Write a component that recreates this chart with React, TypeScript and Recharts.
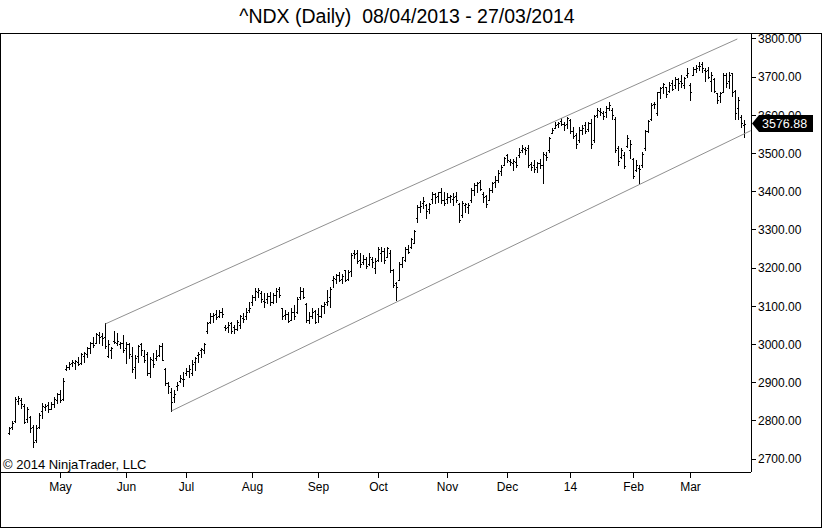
import { ComposedChart, Bar, XAxis, YAxis, ReferenceLine } from 'recharts';

// open, high, low, close
type Ohlc = [number, number, number, number];

const apr13: Ohlc[] = [
  [2768, 2785, 2765, 2782], [2785, 2800, 2778, 2795], [2800, 2862, 2798, 2858], [2852, 2865, 2845, 2860],
  [2855, 2860, 2833, 2845], [2840, 2843, 2794, 2797], [2805, 2837, 2796, 2832], [2810, 2813, 2772, 2780],
  [2785, 2789, 2732, 2745], [2750, 2789, 2745, 2780], [2785, 2820, 2781, 2815], [2825, 2847, 2807, 2840],
  [2835, 2844, 2828, 2838], [2842, 2850, 2824, 2830], [2832, 2850, 2830, 2845], [2845, 2863, 2837, 2858],
  [2855, 2873, 2847, 2870],
];
const may13: Ohlc[] = [
  [2870, 2881, 2850, 2855], [2858, 2912, 2855, 2905], [2935, 2946, 2932, 2940], [2940, 2955, 2937, 2950],
  [2952, 2959, 2944, 2955], [2952, 2960, 2937, 2958], [2955, 2968, 2946, 2950], [2952, 2977, 2950, 2975],
  [2970, 2981, 2955, 2978], [2975, 2994, 2968, 2992], [2990, 3007, 2977, 3004], [3003, 3020, 2994, 2998],
  [3005, 3030, 3003, 3028], [3025, 3033, 3003, 3020], [3022, 3030, 2999, 3018], [3020, 3055, 2990, 2995],
  [2970, 3012, 2968, 3000], [2985, 2994, 2964, 2992], [3010, 3036, 3003, 3006], [3005, 3030, 2999, 3010],
  [3000, 3007, 2990, 3003], [3005, 3025, 2981, 2985],
];
const jun13: Ohlc[] = [
  [2990, 3007, 2951, 3000], [3000, 3005, 2964, 2975], [2970, 2994, 2929, 2935], [2940, 2972, 2911, 2965],
  [2970, 2999, 2955, 2997], [3000, 3005, 2972, 2985], [2970, 2985, 2955, 2960], [2975, 2981, 2920, 2925],
  [2925, 2968, 2916, 2962], [2960, 2977, 2942, 2948], [2965, 2985, 2959, 2970], [2972, 2999, 2970, 2995],
  [2995, 3003, 2959, 2960], [2935, 2938, 2894, 2900], [2900, 2903, 2873, 2890], [2875, 2886, 2826, 2850],
  [2862, 2881, 2850, 2870], [2890, 2903, 2881, 2895], [2905, 2920, 2903, 2912], [2910, 2929, 2890, 2910],
];
const jul13: Ohlc[] = [
  [2925, 2938, 2920, 2930], [2930, 2946, 2916, 2935], [2925, 2959, 2920, 2950], [2955, 2968, 2933, 2965],
  [2972, 2981, 2955, 2975], [2985, 2990, 2968, 2988], [2985, 3003, 2977, 3000], [3035, 3060, 3029, 3055],
  [3058, 3082, 3055, 3075], [3075, 3082, 3060, 3078], [3080, 3090, 3068, 3072], [3075, 3090, 3073, 3085],
  [3085, 3095, 3073, 3080], [3045, 3051, 3038, 3042], [3045, 3060, 3033, 3050], [3055, 3060, 3029, 3035],
  [3045, 3051, 3029, 3040], [3040, 3064, 3038, 3060], [3050, 3077, 3042, 3075], [3070, 3082, 3060, 3068],
  [3075, 3095, 3068, 3085], [3090, 3112, 3086, 3095],
];
const aug13: Ohlc[] = [
  [3110, 3130, 3103, 3125], [3125, 3147, 3116, 3140], [3138, 3147, 3125, 3142], [3135, 3140, 3110, 3118],
  [3115, 3134, 3099, 3110], [3120, 3134, 3108, 3128], [3128, 3138, 3103, 3110], [3110, 3134, 3108, 3130],
  [3130, 3147, 3110, 3140], [3145, 3151, 3125, 3130], [3095, 3095, 3068, 3075], [3078, 3090, 3068, 3080],
  [3080, 3086, 3060, 3062], [3065, 3095, 3064, 3085], [3085, 3103, 3068, 3075], [3085, 3125, 3083, 3120],
  [3125, 3150, 3120, 3140], [3140, 3147, 3121, 3125], [3105, 3108, 3060, 3065], [3065, 3085, 3055, 3075],
  [3075, 3095, 3070, 3085], [3088, 3090, 3055, 3060],
];
const sep13: Ohlc[] = [
  [3080, 3095, 3060, 3075], [3075, 3103, 3073, 3100], [3100, 3112, 3082, 3105], [3110, 3142, 3103, 3115],
  [3125, 3151, 3099, 3145], [3170, 3180, 3150, 3175], [3172, 3185, 3160, 3182], [3182, 3190, 3165, 3170],
  [3172, 3185, 3160, 3180], [3195, 3195, 3165, 3170], [3172, 3195, 3170, 3190], [3192, 3239, 3180, 3235],
  [3240, 3247, 3226, 3238], [3240, 3247, 3214, 3218], [3220, 3239, 3203, 3210], [3215, 3235, 3212, 3225],
  [3225, 3230, 3200, 3205], [3210, 3240, 3208, 3230], [3225, 3230, 3203, 3215], [3200, 3226, 3187, 3218],
];
const oct13: Ohlc[] = [
  [3220, 3256, 3218, 3250], [3240, 3256, 3218, 3245], [3245, 3252, 3213, 3222], [3230, 3256, 3228, 3252],
  [3240, 3247, 3190, 3195], [3195, 3198, 3150, 3155], [3160, 3164, 3116, 3150], [3170, 3217, 3168, 3212],
  [3210, 3230, 3204, 3228], [3220, 3256, 3218, 3250], [3250, 3260, 3239, 3242], [3255, 3278, 3252, 3275],
  [3265, 3301, 3265, 3298], [3330, 3365, 3321, 3360], [3360, 3375, 3348, 3362], [3370, 3387, 3357, 3375],
  [3365, 3368, 3330, 3350], [3355, 3370, 3343, 3368], [3380, 3400, 3370, 3395], [3395, 3396, 3370, 3385],
  [3390, 3400, 3374, 3398], [3400, 3409, 3370, 3378], [3378, 3400, 3365, 3370],
];
const nov13: Ohlc[] = [
  [3380, 3396, 3370, 3385], [3385, 3391, 3374, 3390], [3380, 3396, 3365, 3385], [3390, 3400, 3374, 3378],
  [3368, 3370, 3321, 3325], [3340, 3375, 3335, 3370], [3365, 3370, 3348, 3368], [3360, 3370, 3343, 3365],
  [3378, 3409, 3374, 3405], [3405, 3422, 3391, 3418], [3418, 3426, 3400, 3422], [3425, 3431, 3404, 3408],
  [3395, 3400, 3374, 3385], [3388, 3391, 3361, 3368], [3378, 3409, 3378, 3405], [3405, 3426, 3400, 3422],
  [3425, 3440, 3413, 3430], [3430, 3457, 3426, 3450], [3455, 3470, 3444, 3465], [3470, 3492, 3470, 3488],
];
const dec13: Ohlc[] = [
  [3495, 3500, 3479, 3482], [3480, 3487, 3470, 3478], [3475, 3487, 3457, 3480], [3478, 3490, 3465, 3470],
  [3495, 3514, 3492, 3505], [3510, 3522, 3505, 3515], [3512, 3518, 3500, 3508], [3515, 3522, 3466, 3470],
  [3472, 3479, 3457, 3465], [3470, 3483, 3452, 3460], [3465, 3479, 3452, 3475], [3475, 3487, 3461, 3470],
  [3470, 3505, 3422, 3500], [3495, 3505, 3483, 3490], [3510, 3544, 3505, 3540], [3555, 3566, 3553, 3562],
  [3568, 3583, 3566, 3575], [3578, 3583, 3570, 3580], [3585, 3592, 3575, 3578], [3578, 3583, 3562, 3575],
  [3578, 3595, 3566, 3592],
];
const jan14: Ohlc[] = [
  [3588, 3590, 3555, 3560], [3560, 3570, 3540, 3545], [3548, 3553, 3514, 3525], [3535, 3570, 3530, 3562],
  [3562, 3575, 3550, 3568], [3575, 3583, 3555, 3560], [3565, 3583, 3560, 3580], [3580, 3590, 3515, 3525],
  [3535, 3600, 3530, 3598], [3600, 3620, 3595, 3615], [3612, 3620, 3600, 3610], [3605, 3612, 3590, 3598],
  [3610, 3625, 3595, 3620], [3620, 3635, 3615, 3628], [3615, 3620, 3590, 3600], [3590, 3595, 3505, 3510],
  [3515, 3520, 3470, 3480], [3490, 3514, 3488, 3508], [3495, 3505, 3461, 3468], [3520, 3549, 3518, 3540],
  [3510, 3535, 3488, 3525],
];
const feb14: Ohlc[] = [
  [3485, 3488, 3435, 3440], [3458, 3483, 3453, 3470], [3462, 3470, 3422, 3460], [3470, 3505, 3466, 3500],
  [3515, 3562, 3509, 3558], [3560, 3588, 3557, 3585], [3590, 3632, 3588, 3628], [3630, 3636, 3618, 3630],
  [3605, 3662, 3601, 3660], [3660, 3675, 3645, 3672], [3675, 3684, 3658, 3682], [3675, 3675, 3649, 3655],
  [3665, 3688, 3660, 3680], [3685, 3692, 3666, 3670], [3680, 3701, 3671, 3695], [3695, 3697, 3666, 3685],
  [3690, 3705, 3675, 3685], [3680, 3701, 3671, 3698], [3705, 3723, 3701, 3710],
];
const mar14: Ohlc[] = [
  [3680, 3684, 3640, 3660], [3705, 3727, 3705, 3722], [3722, 3732, 3714, 3725], [3730, 3740, 3719, 3728],
  [3735, 3740, 3714, 3725], [3718, 3723, 3690, 3715], [3720, 3727, 3697, 3700], [3690, 3714, 3665, 3705],
  [3695, 3697, 3662, 3665], [3658, 3658, 3632, 3640], [3650, 3662, 3636, 3658], [3662, 3710, 3662, 3705],
  [3705, 3710, 3675, 3685], [3690, 3714, 3671, 3705], [3710, 3712, 3650, 3660], [3665, 3666, 3590, 3605],
  [3620, 3648, 3590, 3640], [3595, 3600, 3570, 3580], [3575, 3588, 3544, 3576.88],
];

const MONTHS = [apr13, may13, jun13, jul13, aug13, sep13, oct13, nov13, dec13, jan14, feb14, mar14];

// bar index where each month starts
const MONTH_TICKS = [17, 39, 59, 81, 103, 123, 146, 166, 187, 208, 227];
const MONTH_LABELS = ['May', 'Jun', 'Jul', 'Aug', 'Sep', 'Oct', 'Nov', 'Dec', '14', 'Feb', 'Mar'];
const PRICE_TICKS = [2700, 2800, 2900, 3000, 3100, 3200, 3300, 3400, 3500, 3600, 3700, 3800];
const LAST_PRICE = 3576.88;

// hand drawn channel (bar index, price)
const UPPER_CHANNEL = [{ x: 32, y: 3054 }, { x: 242.6, y: 3800 }];
const LOWER_CHANNEL = [{ x: 54, y: 2826 }, { x: 247.1, y: 3560 }];

const bars = MONTHS.flat().map(([o, h, l, c], i) => ({ i, o, h, l, c, range: [l, h] }));

const FONT = '"Liberation Sans", Arial, sans-serif';

function OhlcBar(props: any) {
  const { x, y, width, height, payload } = props;
  if (!payload || x == null || y == null) return null;
  const top = Math.min(y, y + height);
  const bot = Math.max(y, y + height);
  const span = payload.h - payload.l || 1;
  const toY = (v: number) => Math.round(top + ((payload.h - v) / span) * (bot - top));
  const px = Math.floor(x + width / 2);
  const t = Math.round(top);
  const b = Math.round(bot);
  return (
    <g shapeRendering="crispEdges" fill="#000">
      <rect x={px} y={t} width={1} height={Math.max(1, b - t + 1)} />
      <rect x={px - 1} y={toY(payload.o)} width={1} height={1} />
      <rect x={px + 1} y={toY(payload.c)} width={1} height={1} />
    </g>
  );
}

function PriceTag(props: any) {
  const vb = props.viewBox;
  if (!vb) return null;
  const x0 = vb.x + vb.width;
  const yc = Math.round(vb.y) - 0.5;
  return (
    <g>
      <polygon
        points={`${x0 + 1},${yc} ${x0 + 8},${yc - 8.5} ${x0 + 62},${yc - 8.5} ${x0 + 62},${yc + 8.5} ${x0 + 8},${yc + 8.5}`}
        fill="#000"
      />
      <text x={x0 + 11} y={yc + 4.5} fill="#fff" fontSize={12.5} fontFamily={FONT}>
        {LAST_PRICE.toFixed(2)}
      </text>
    </g>
  );
}

export default function App() {
  return (
    <div style={{ position: 'absolute', left: 0, top: 0, width: 824, height: 528, background: '#fff', fontFamily: FONT }}>
      <ComposedChart width={824} height={528} data={bars} margin={{ top: 33, right: 2, bottom: 0, left: 1 }}>
        <XAxis
          dataKey="i"
          type="number"
          domain={[-2.8333, 247.1667]}
          allowDataOverflow
          ticks={MONTH_TICKS}
          interval={0}
          tickFormatter={(v: number) => MONTH_LABELS[MONTH_TICKS.indexOf(v)] ?? ''}
          height={56}
          tickSize={6}
          tickMargin={4}
          axisLine={{ stroke: '#000', shapeRendering: 'crispEdges' }}
          tickLine={{ stroke: '#000', shapeRendering: 'crispEdges' }}
          tick={{ fill: '#000', fontSize: 12 }}
        />
        <YAxis
          orientation="right"
          type="number"
          domain={[2666, 3815.7]}
          allowDataOverflow
          ticks={PRICE_TICKS}
          interval={0}
          width={71}
          tickSize={5}
          tickMargin={2}
          tickFormatter={(v: number) => v.toFixed(2)}
          axisLine={{ stroke: '#000', shapeRendering: 'crispEdges' }}
          tickLine={{ stroke: '#000', shapeRendering: 'crispEdges' }}
          tick={{ fill: '#000', fontSize: 12 }}
        />
        <ReferenceLine segment={UPPER_CHANNEL} stroke="#909090" strokeWidth={1} ifOverflow="visible" />
        <ReferenceLine segment={LOWER_CHANNEL} stroke="#909090" strokeWidth={1} ifOverflow="visible" />
        <Bar dataKey="range" barSize={3} shape={OhlcBar} isAnimationActive={false} />
        <ReferenceLine y={LAST_PRICE} stroke="none" ifOverflow="visible" label={<PriceTag />} />
      </ComposedChart>
      <svg width={824} height={528} style={{ position: 'absolute', left: 0, top: 0, pointerEvents: 'none' }}>
        <rect x={0.5} y={33.5} width={821} height={494} fill="none" stroke="#000" />
        <text x={407} y={23} textAnchor="middle" fontSize={19.5} fontFamily={FONT} fill="#000">
          ^NDX (Daily)&#160;&#160;08/04/2013 - 27/03/2014
        </text>
        <text x={3} y={469} fontSize={13} fontFamily={FONT} fill="#000">
          © 2014 NinjaTrader, LLC
        </text>
      </svg>
    </div>
  );
}
